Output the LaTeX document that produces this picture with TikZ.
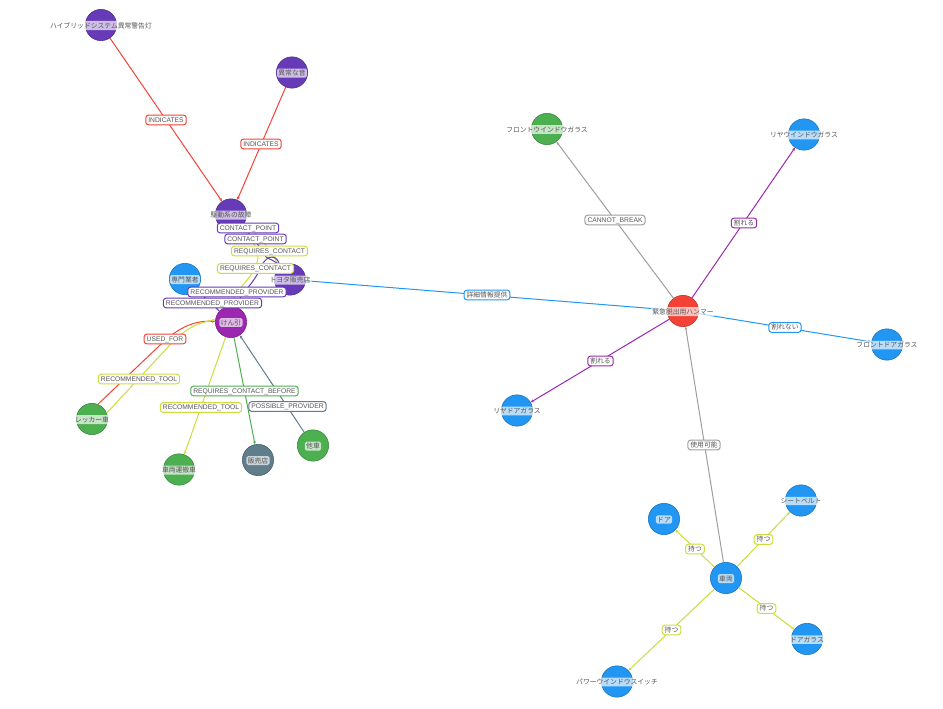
\documentclass[tikz,border=0pt]{standalone}
\usepackage{fontspec}
\setmainfont{Liberation Sans}
\newfontfamily\cjk{Noto Sans CJK JP}
\usetikzlibrary{arrows.meta}
\definecolor{cPurple}{HTML}{673AB7}
\definecolor{cBlue}{HTML}{2196F3}
\definecolor{cGreen}{HTML}{4CAF50}
\definecolor{cRed}{HTML}{F44336}
\definecolor{cMag}{HTML}{9C27B0}
\definecolor{cSlate}{HTML}{607D8B}
\definecolor{cLime}{HTML}{CDDC39}
\definecolor{cGrey}{HTML}{9E9E9E}
\definecolor{cText}{HTML}{555555}
\tikzset{
 ent/.style={circle,minimum size=23.5pt,inner sep=0pt,draw=#1!75!black,line width=.4pt,fill=#1},
 nlab/.style={fill=white,fill opacity=.68,text opacity=1,text=cText,font=\cjk\fontsize{5.1}{6}\selectfont,inner sep=1pt,rounded corners=1.2pt,yshift=-.4pt},
 rel/.style={draw=#1,line width=.75pt,fill=white,rounded corners=2pt,text=cText,font=\fontsize{5.05}{6}\selectfont,inner xsep=1.9pt,inner ysep=1.5pt,text height=3.8pt,text depth=.4pt},
 jrel/.style={rel=#1,font=\cjk\fontsize{5.1}{6}\selectfont},
 con/.style={draw=#1,line width=.75pt,-{Stealth[length=2.4pt,width=2.2pt]}},
}
\begin{document}
\begin{tikzpicture}[x=.75pt,y=-.75pt]
\useasboundingbox (0,0) rectangle (943,709);
% entity circles
\node[ent=cPurple] (hyb) at (101,25) {};
\node[ent=cPurple] (ion) at (292,72.5) {};
\node[ent=cPurple] (kos) at (231,214.5) {};
\node[ent=cPurple] (toy) at (290,279.5) {};
\node[ent=cBlue] (sen) at (185,279) {};
\node[ent=cMag] (ken) at (231,322) {};
\node[ent=cGreen] (rek) at (92,419) {};
\node[ent=cGreen] (unp) at (179,469.5) {};
\node[ent=cSlate] (han) at (258,460) {};
\node[ent=cGreen] (tas) at (313,445.5) {};
\node[ent=cRed] (ham) at (683,311) {};
\node[ent=cGreen] (fwg) at (547,129) {};
\node[ent=cBlue] (rwg) at (804,134.5) {};
\node[ent=cBlue] (fdg) at (887,344.5) {};
\node[ent=cBlue] (rdg) at (517,410.5) {};
\node[ent=cBlue] (sha) at (726,578) {};
\node[ent=cBlue] (dor) at (664,519) {};
\node[ent=cBlue] (sea) at (801,500.5) {};
\node[ent=cBlue] (dgl) at (807,639) {};
\node[ent=cBlue] (pws) at (617,681.5) {};
% connectors
\draw[con=cRed] (hyb) -- (kos);
\draw[con=cRed] (ion) -- (kos);
\draw[con=cLime] (kos) .. controls (255,232) and (268,245) .. (toy.130);
\draw[con=cLime] (ken.80) .. controls (228,292) and (254,282) .. (258,258) .. controls (259,248) and (248,235) .. (kos);
\draw[con=cPurple] (kos) .. controls (248,232) and (258,243) .. (266,257) .. controls (270,260) and (275,260) .. (toy.130);
\draw[con=cPurple] (ken.70) .. controls (238,296) and (250,288) .. (258,273) .. controls (262,262) and (268,256.5) .. (272,257) .. controls (276,257) and (279,261) .. (toy.130);
\draw[con=cPurple] (ken) -- (sen);
\draw[con=cRed] (rek.68) -- (158,347) .. controls (176,329) and (193,320) .. (ken.178);
\draw[con=cLime] (rek.22) -- (168,347) .. controls (184,329) and (197,323) .. (ken.172);
\draw[con=cLime] (ken) -- (unp);
\draw[con=cGreen] (ken) -- (han);
\draw[con=cSlate] (tas) -- (ken);
\draw[con=cBlue] (ham) -- (toy);
\draw[con=cBlue] (ham) -- (fdg);
\draw[con=cGrey] (ham) -- (fwg);
\draw[con=cMag] (ham) -- (rwg);
\draw[con=cMag] (ham) -- (rdg);
\draw[con=cGrey] (sha) -- (ham);
\draw[con=cLime] (sha) -- (dor);
\draw[con=cLime] (sha) -- (sea);
\draw[con=cLime] (sha) -- (dgl);
\draw[con=cLime] (sha) -- (pws);
% relation label boxes
\node[rel=cRed] (r1) at (166,120) {INDICATES};
\node[rel=cRed] (r2) at (261,144) {INDICATES};
\node[rel=cPurple] (r3) at (248,228) {CONTACT\_POINT};
\node[rel=cPurple] (r4) at (255.5,239) {CONTACT\_POINT};
\node[rel=cLime] (r5) at (269.5,251) {REQUIRES\_CONTACT};
\node[rel=cLime] (r6) at (255.5,268.5) {REQUIRES\_CONTACT};
\node[rel=cPurple] (r7) at (237,292) {RECOMMENDED\_PROVIDER};
\node[rel=cPurple] (r8) at (212.5,303) {RECOMMENDED\_PROVIDER};
\node[rel=cRed] (r9) at (165,339) {USED\_FOR};
\node[rel=cLime] (r10) at (139,379) {RECOMMENDED\_TOOL};
\node[rel=cLime] (r11) at (201,407.5) {RECOMMENDED\_TOOL};
\node[rel=cGreen] (r12) at (244.5,391) {REQUIRES\_CONTACT\_BEFORE};
\node[rel=cSlate] (r13) at (287.5,406.5) {POSSIBLE\_PROVIDER};
\node[jrel=cBlue] (r14) at (487,295) {詳細情報提供};
\node[rel=cGrey] (r15) at (615,220) {CANNOT\_BREAK};
\node[jrel=cMag] (r16) at (744,223) {割れる};
\node[jrel=cMag] (r17) at (600.5,361) {割れる};
\node[jrel=cBlue] (r18) at (785,327.5) {割れない};
\node[jrel=cGrey] (r19) at (704,445) {使用可能};
\node[jrel=cLime] (r20) at (695,549) {持つ};
\node[jrel=cLime] (r21) at (763.5,539.5) {持つ};
\node[jrel=cLime] (r22) at (766.5,608.5) {持つ};
\node[jrel=cLime] (r23) at (671.5,630) {持つ};
% entity labels
\node[nlab] at (hyb) {ハイブリッドシステム異常警告灯};
\node[nlab] at (ion) {異常な音};
\node[nlab] at (kos) {駆動系の故障};
\node[nlab] at (toy) {トヨタ販売店};
\node[nlab] at (sen) {専門業者};
\node[nlab] at (ken) {けん引};
\node[nlab] at (rek) {レッカー車};
\node[nlab] at (unp) {車両運搬車};
\node[nlab] at (han) {販売店};
\node[nlab] at (tas) {他車};
\node[nlab] at (ham) {緊急脱出用ハンマー};
\node[nlab] at (fwg) {フロントウインドウガラス};
\node[nlab] at (rwg) {リヤウインドウガラス};
\node[nlab] at (fdg) {フロントドアガラス};
\node[nlab] at (rdg) {リヤドアガラス};
\node[nlab] at (sha) {車両};
\node[nlab] at (dor) {ドア};
\node[nlab] at (sea) {シートベルト};
\node[nlab] at (dgl) {ドアガラス};
\node[nlab] at (pws) {パワーウインドウスイッチ};
\end{tikzpicture}
\end{document}
